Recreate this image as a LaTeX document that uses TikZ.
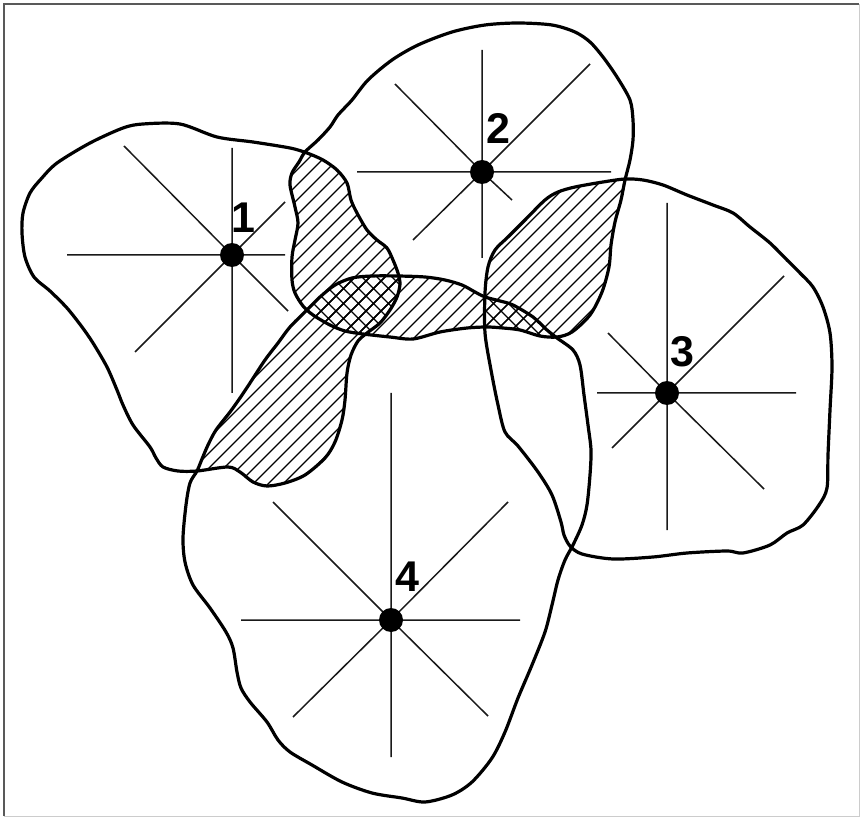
\documentclass[tikz,border=0pt]{standalone}
\usepackage{fontspec}
\setmainfont{Liberation Sans}
\newcommand\rgnOne{plot[smooth cycle, tension=0.5] coordinates {(123,128) (143,124) (180,124) (217,137) (253,142) (290,148) (307,153) (323,160) (337,170) (347,183) (351,200) (357,213) (367,230) (377,240) (387,248) (393,260) (398,273) (400,284) (397,297) (390,310) (380,323) (367,333) (358,341) (351,355) (347,373) (345,400) (342,420) (335,442) (325,458) (305,475) (285,483) (267,486) (253,482) (240,472) (228,467) (197,471) (178,471) (163,467) (156,458) (150,447) (133,425) (123,405) (117,390) (107,367) (93,343) (82,327) (67,308) (50,291) (34,277) (25,257) (22,233) (23,213) (30,193) (41,179) (57,163) (90,143)}}
\newcommand\rgnTwo{plot[smooth cycle, tension=0.5] coordinates {(305,152) (318,140) (330,127) (338,115) (352,100) (368,80) (392,60) (418,45) (452,32) (485,25) (518,23) (552,25) (575,32) (590,42) (603,57) (617,77) (630,100) (633,120) (633,140) (630,160) (625,180) (621,200) (615,222) (611,245) (609,267) (602,292) (590,315) (572,332) (557,337) (540,336) (520,330) (503,328) (487,327) (467,328) (440,332) (413,339) (390,337) (363,334) (345,331) (330,325) (313,315) (303,306) (295,293) (292,280) (292,257) (295,240) (298,223) (295,207) (290,185) (292,173) (299,162)}}
\newcommand\rgnThree{plot[smooth cycle, tension=0.5] coordinates {(625,179) (643,180) (663,185) (687,195) (713,205) (733,213) (750,227) (770,243) (787,260) (800,273) (813,287) (823,307) (830,333) (832,367) (830,410) (828,455) (827,488) (819,505) (803,525) (787,533) (770,545) (743,553) (727,551) (687,553) (653,557) (613,559) (582,554) (570,546) (564,535) (561,522) (552,495) (538,472) (518,446) (505,432) (498,405) (491,370) (485,333) (485,293) (488,267) (495,250) (508,237) (525,220) (545,200) (558,192) (575,187) (603,182)}}
\newcommand\rgnFour{plot[smooth cycle, tension=0.5] coordinates {(197,471) (202,459) (208,445) (216,430) (230,412) (240,398) (250,383) (265,360) (278,343) (290,327) (307,310) (320,297) (335,285) (352,278) (372,276) (398,276) (425,277) (445,280) (462,285) (475,292) (485,297) (500,301) (513,305) (533,317) (547,330) (557,338) (573,350) (580,365) (584,395) (588,425) (591,450) (590,475) (587,505) (582,525) (573,545) (565,560) (558,580) (552,605) (545,632) (532,665) (518,698) (505,732) (492,758) (472,782) (452,795) (425,802) (402,798) (372,793) (342,782) (312,765) (290,752) (278,740) (267,722) (250,702) (241,688) (237,672) (233,648) (226,632) (210,608) (193,585) (185,562) (183,538) (186,505) (190,483)}}
\newcommand\hatchNE{\foreach \c in {302,317,...,1140} \draw[hatchline] (\c,0) -- ({\c-900},900);}
\newcommand\hatchNW{\foreach \c in {-200,-185,...,500} \draw[hatchline] (\c,0) -- ({\c+900},900);}
\begin{document}
\begin{tikzpicture}[x=1pt,y=-1pt,
  outline/.style={line width=3.2pt, line join=round},
  ray/.style={line width=1.5pt, draw=black!90},
  hatchline/.style={line width=1.3pt},
  dot/.style={circle, fill=black, minimum size=24pt, inner sep=0pt},
  lbl/.style={font=\fontsize{43}{43}\selectfont\bfseries, inner sep=0pt},
  frameA/.style={draw=black!65, line width=2pt},
  frameB/.style={draw=black!20, line width=1pt}]
\useasboundingbox (0,0) rectangle (860,818);
\fill[white] (0,0) rectangle (860,818);
% frame
\draw[frameB] (4,816) -- (859,816) -- (859,4);
\draw[frameA] (4,816) -- (4,4) -- (859,4);
% hatching of pairwise overlaps
\begin{scope}\clip \rgnOne; \clip \rgnTwo; \hatchNE \end{scope}
\begin{scope}\clip \rgnTwo; \clip \rgnThree; \hatchNE \end{scope}
\begin{scope}\clip \rgnOne; \clip \rgnFour; \hatchNE \end{scope}
\begin{scope}\clip \rgnTwo; \clip \rgnFour; \hatchNE \end{scope}
% cross hatching of triple overlaps
\begin{scope}\clip \rgnOne; \clip \rgnTwo; \clip \rgnFour; \hatchNW \end{scope}
\begin{scope}\clip \rgnTwo; \clip \rgnThree; \clip \rgnFour; \hatchNW \end{scope}
% centres
\coordinate (c1) at (232,255);
\coordinate (c2) at (482,172);
\coordinate (c3) at (667,393);
\coordinate (c4) at (391,620);
% rays
\draw[ray] (67,255) -- (285,255) (232,148) -- (232,393) (124,146) -- (c1) -- (288,311) (135,352) -- (c1) -- (285,202);
\draw[ray] (357,172) -- (611,172) (482,50) -- (482,258) (395,84) -- (c2) -- (512,200) (413,240) -- (c2) -- (590,64);
\draw[ray] (597,393) -- (796,393) (667,203) -- (667,530) (608,333) -- (c3) -- (764,489) (612,448) -- (c3) -- (784,276);
\draw[ray] (241,620) -- (520,620) (391,393) -- (391,757) (273,502) -- (c4) -- (488,716) (293,717) -- (c4) -- (508,502);
% outlines
\draw[outline] \rgnOne;
\draw[outline] \rgnTwo;
\draw[outline] \rgnThree;
\draw[outline] \rgnFour;
% dots and labels
\node[dot] (d1) at (c1) {};
\node[dot] (d2) at (c2) {};
\node[dot] (d3) at (c3) {};
\node[dot] (d4) at (c4) {};
\node[lbl] (l1) at (243,218) {1};
\node[lbl] (l2) at (498,128) {2};
\node[lbl] (l3) at (682,352) {3};
\node[lbl] (l4) at (407,577) {4};
\end{tikzpicture}
\end{document}
